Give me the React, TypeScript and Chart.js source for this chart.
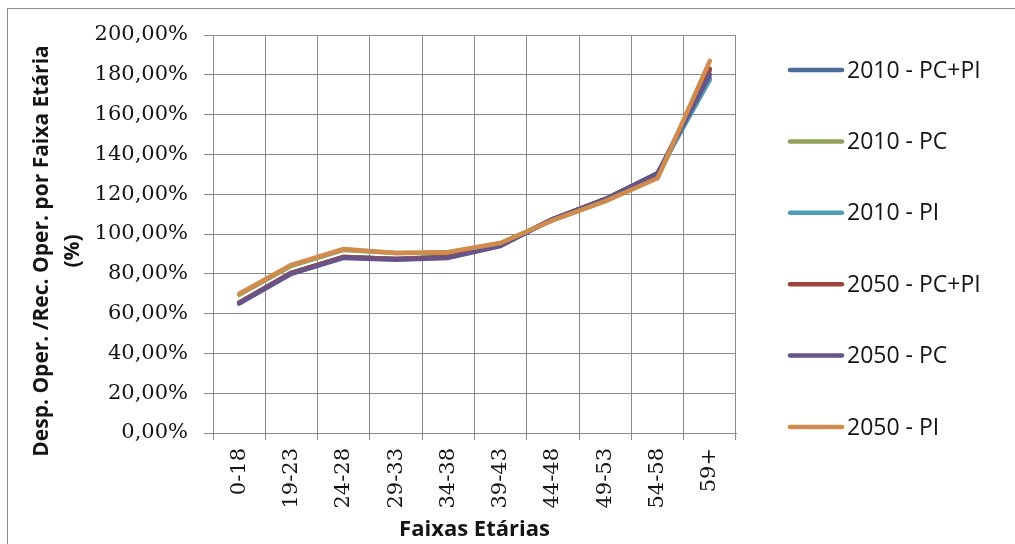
import React, { useEffect, useRef } from "react";
import { Chart, registerables } from "chart.js";

Chart.register(...registerables);

// ---- data ----
const categories = ["0-18", "19-23", "24-28", "29-33", "34-38", "39-43", "44-48", "49-53", "54-58", "59+"];

const s2010PCPI = [65.5, 80.5, 88.5, 87.5, 88.5, 94.5, 107.5, 117.5, 130.5, 178];
const s2010PC = [69.5, 84, 92, 90.5, 90.5, 95.5, 107, 116.5, 128.5, 182];
const s2010PI = [65.5, 80.5, 88.5, 87.5, 88.5, 94.5, 107.5, 117.5, 130.5, 177.5];
const s2050PCPI = [65.5, 80.5, 88.5, 87.5, 88.5, 94.5, 107.5, 117.5, 130, 183];
const s2050PC = [65, 80, 88, 87, 88, 94, 107.5, 117.5, 130.5, 180];
const s2050PI = [70, 84.5, 92.5, 90.5, 91, 95.5, 107, 116.5, 128, 187];

const seriesLabels = ["2010 - PC+PI", "2010 - PC", "2010 - PI", "2050 - PC+PI", "2050 - PC", "2050 - PI"];
const seriesValues = [s2010PCPI, s2010PC, s2010PI, s2050PCPI, s2050PC, s2050PI];
const seriesColors = ["#4A6C96", "#8FA05C", "#4E9FB6", "#A0423F", "#66548A", "#D08C4E"];

const yMin = 0;
const yMax = 200;
const yStep = 20;

const xTitle = "Faixas Etárias";
const yTitleLines = ["Desp. Oper. /Rec. Oper. por Faixa Etária", "(%)"];

const GRID = "#8a8a8a";
const TEXT = "#141414";

const sidePlugin = {
  id: "sideLegendAndTitle",
  afterDraw(chart: any) {
    const ctx = chart.ctx as CanvasRenderingContext2D;
    ctx.save();
    // legend
    chart.data.datasets.forEach((ds: any, i: number) => {
      const y = 70 + i * 71.4;
      ctx.strokeStyle = ds.borderColor;
      ctx.lineWidth = 4.5;
      ctx.lineCap = "round";
      ctx.beginPath();
      ctx.moveTo(790, y);
      ctx.lineTo(842, y);
      ctx.stroke();
      ctx.fillStyle = TEXT;
      ctx.font = '23px "Open Sans"';
      ctx.textAlign = "left";
      ctx.textBaseline = "middle";
      ctx.fillText(ds.label, 847, y + 1);
    });
    // y-axis title
    ctx.translate(42, 251);
    ctx.rotate(-Math.PI / 2);
    ctx.fillStyle = TEXT;
    ctx.font = 'bold 21px "Open Sans"';
    ctx.textAlign = "center";
    ctx.textBaseline = "middle";
    yTitleLines.forEach((line, i) => ctx.fillText(line, 0, i * 31));
    ctx.restore();
  },
};

export default function App() {
  const canvasRef = useRef<HTMLCanvasElement | null>(null);

  useEffect(() => {
    if (!canvasRef.current) return;
    const chart = new Chart(canvasRef.current, {
      type: "line",
      data: {
        labels: categories,
        datasets: seriesValues.map((vals, i) => ({
          label: seriesLabels[i],
          data: vals,
          borderColor: seriesColors[i],
          backgroundColor: seriesColors[i],
          borderWidth: 4.5,
          borderCapStyle: "round" as const,
          borderJoinStyle: "round" as const,
          pointRadius: 0,
          tension: 0,
          fill: false,
          order: seriesValues.length - 1 - i,
        })),
      },
      options: {
        animation: false,
        responsive: false,
        maintainAspectRatio: false,
        layout: { padding: { top: 35, right: 279, left: 0, bottom: 0 } },
        plugins: {
          legend: { display: false },
          title: { display: false },
          tooltip: { enabled: false },
        },
        scales: {
          x: {
            type: "category",
            offset: true,
            grid: { offset: true, color: GRID, lineWidth: 1, tickLength: 7, drawTicks: true },
            border: { color: GRID, width: 1 },
            ticks: {
              autoSkip: false,
              minRotation: 90,
              maxRotation: 90,
              padding: 8,
              color: TEXT,
              font: { family: '"DejaVu Serif"', size: 21 },
            },
            title: {
              display: true,
              text: xTitle,
              color: TEXT,
              font: { family: '"Open Sans"', size: 22, weight: "bold" },
              padding: { top: 0, bottom: 1 },
            },
            afterFit: (s: any) => {
              s.height = 111;
            },
          },
          y: {
            min: yMin,
            max: yMax,
            grid: { color: GRID, lineWidth: 1, tickLength: 9 },
            border: { color: GRID, width: 1 },
            ticks: {
              stepSize: yStep,
              padding: 16,
              color: TEXT,
              font: { family: '"DejaVu Serif"', size: 21 },
              callback: (v: any) => `${Number(v).toFixed(2).replace(".", ",")}%`,
            },
            afterFit: (s: any) => {
              s.width = 213;
            },
          },
        },
      },
      plugins: [sidePlugin],
    });
    return () => chart.destroy();
  }, []);

  return (
    <div style={{ position: "absolute", left: 0, top: 0, width: 1015, height: 544, overflow: "hidden", background: "#fff" }}>
      <div
        style={{
          position: "absolute",
          left: 7,
          top: 8,
          width: 1100,
          height: 700,
          border: "1px solid #8c8c8c",
          boxSizing: "border-box",
        }}
      />
      <canvas ref={canvasRef} width={1015} height={544} style={{ position: "absolute", left: 0, top: 0, width: 1015, height: 544 }} />
    </div>
  );
}
